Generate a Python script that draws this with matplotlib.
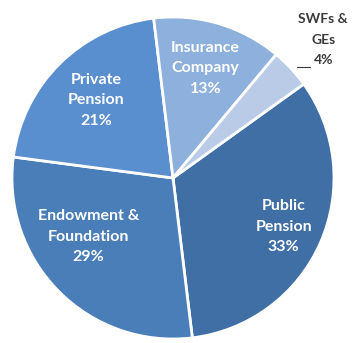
import numpy as np
import matplotlib
matplotlib.use("Agg")
import matplotlib.pyplot as plt

# investor mix, clockwise from the upper right
labels = ["Public\nPension", "Endowment &\nFoundation", "Private\nPension",
          "Insurance\nCompany", "SWFs &\nGEs"]
shares = [33, 29, 21, 13, 4]
colors = ["#3f6fa5", "#4a7eb8", "#5a8fcf", "#8eb0dd", "#bacbe7"]


def main():
    plt.rcParams["font.family"] = ["Lato", "DejaVu Sans"]
    fig = plt.figure(figsize=(3.52, 3.43), dpi=100)
    ax = fig.add_axes([12 / 352, 4 / 343, 322 / 352, 322 / 343])

    wedges, _ = ax.pie(shares, colors=colors, startangle=35.7,
                       counterclock=False,
                       wedgeprops=dict(edgecolor="white", linewidth=2))

    # label radius and angle nudge per slice
    place = [(0.75, 0), (0.64, -10), (0.68, 0), (0.71, 0), (1.267, -0.3)]
    for w, lab, pct, (rad, dth) in zip(wedges, labels, shares, place):
        th = np.deg2rad((w.theta1 + w.theta2) / 2 + dth)
        x, y = rad * np.cos(th), rad * np.sin(th)
        inside = rad < 1
        ax.text(x, y, "{}\n{}%".format(lab, pct), ha="center", va="center",
                color="white" if inside else "#3a3a3a",
                fontsize=11.5 if inside else 10,
                fontweight="bold",
                linespacing=1.6 if inside else 1.85, clip_on=False)

    # little leader for the outside label
    ax.plot([0.77, 0.85], [0.69, 0.69], color="#3a3a3a", lw=0.8, clip_on=False)

    ax.set_xlim(-1, 1)
    ax.set_ylim(-1, 1)
    ax.axis("off")
    fig.savefig("out.png", dpi=100)


if __name__ == "__main__":
    main()
